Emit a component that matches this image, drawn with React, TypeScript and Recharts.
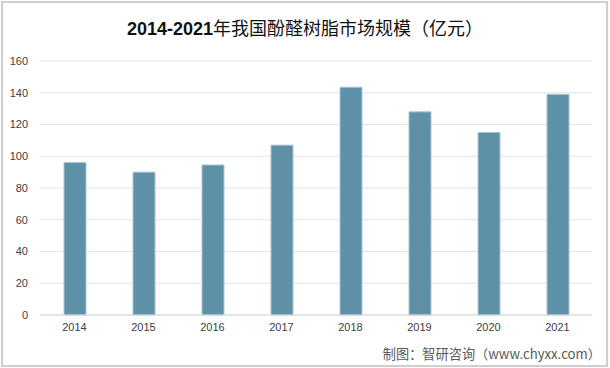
import { BarChart, Bar, XAxis, YAxis, CartesianGrid } from 'recharts';

// 2014-2021 market size, 100M yuan
const years = ['2014', '2015', '2016', '2017', '2018', '2019', '2020', '2021'];
const marketSize = [96, 90, 94.5, 107, 143.5, 128, 115, 139];
const yTicks = [0, 20, 40, 60, 80, 100, 120, 140, 160];

const data = years.map((year, i) => ({ year, value: marketSize[i] }));

const axisFont = '"Liberation Sans", "Noto Sans CJK SC", sans-serif';

export default function App() {
  return (
    <div style={{ position: 'absolute', left: 0, top: 0, width: 610, height: 368, background: '#fff' }}>
      <div
        style={{
          position: 'absolute',
          left: 1,
          top: 1,
          width: 607,
          height: 366,
          boxSizing: 'border-box',
          border: '2px solid #cfcfcf',
        }}
      />
      <div
        style={{
          position: 'absolute',
          left: 0,
          top: 14,
          width: 610,
          textAlign: 'center',
          fontSize: 18,
          color: '#111',
          fontFamily: '"Noto Sans CJK SC", sans-serif',
        }}
      >
        <span style={{ fontWeight: 'bold', fontFamily: '"Liberation Sans", sans-serif' }}>2014-2021</span>
        <span>年我国酚醛树脂市场规模（亿元）</span>
      </div>
      <BarChart
        width={610}
        height={368}
        data={data}
        margin={{ top: 61, right: 18, bottom: 23, left: 0 }}
        style={{ position: 'absolute', left: 0, top: 0 }}
      >
        <CartesianGrid vertical={false} stroke="#e3e3e3" />
        <XAxis
          dataKey="year"
          height={30}
          axisLine={{ stroke: '#d9d9d9' }}
          tickLine={false}
          tick={{ fill: '#404040', fontSize: 11, fontFamily: axisFont }}
        />
        <YAxis
          width={40}
          domain={[0, 160]}
          ticks={yTicks}
          axisLine={false}
          tickLine={false}
          tickMargin={6}
          tick={{ fill: '#404040', fontSize: 11, fontFamily: axisFont }}
        />
        <Bar dataKey="value" fill="#5e91a7" stroke="#a8c5d3" strokeWidth={1} barSize={22} isAnimationActive={false} />
      </BarChart>
      <div
        style={{
          position: 'absolute',
          right: 9,
          top: 344,
          fontSize: 13.2,
          color: '#595959',
          fontFamily: '"Noto Sans CJK SC", sans-serif',
        }}
      >
        制图：智研咨询（www.chyxx.com）
      </div>
    </div>
  );
}
